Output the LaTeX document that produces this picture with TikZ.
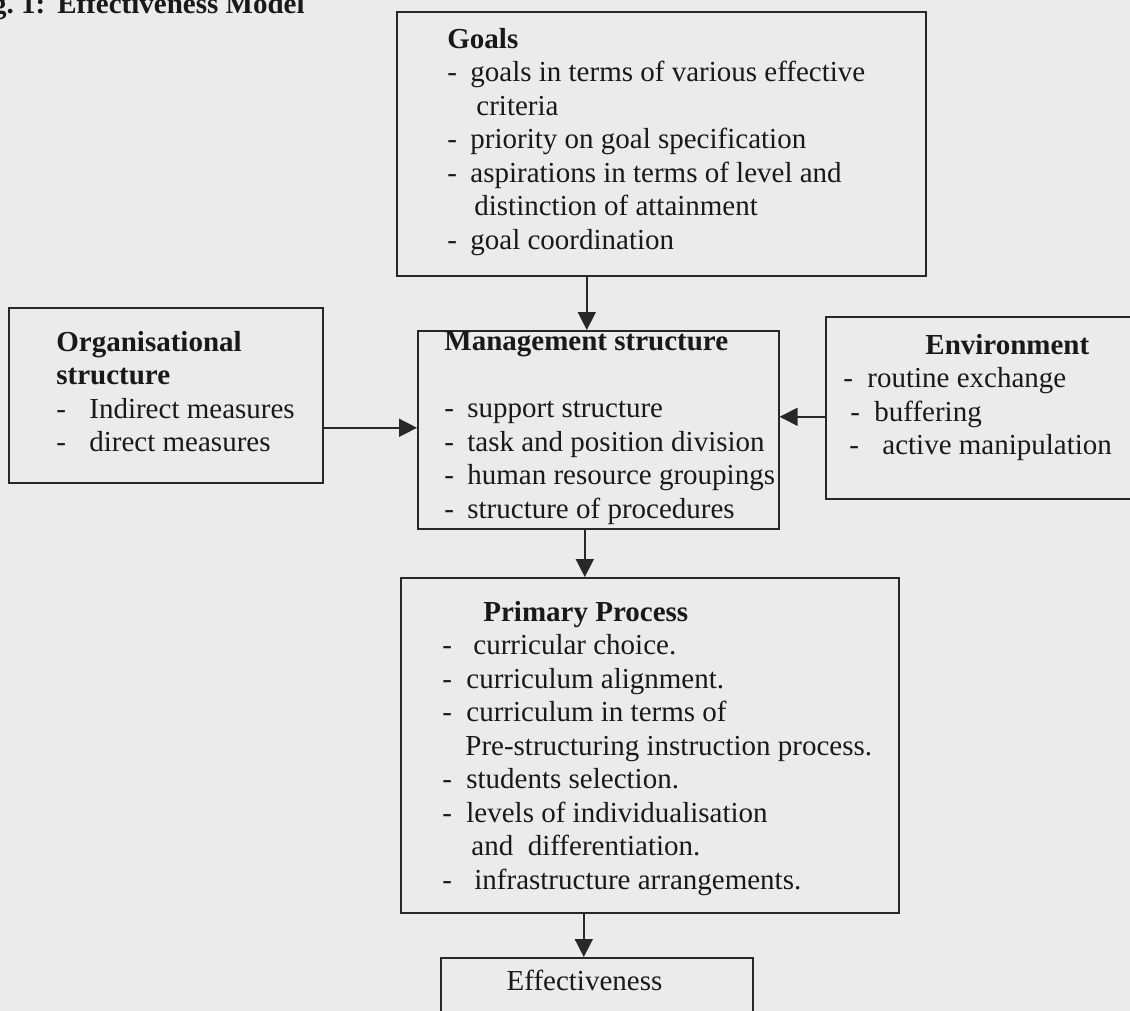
\documentclass[tikz,border=0pt]{standalone}
\usepackage{fontspec}
\setmainfont{Liberation Serif}
\usepackage{tikz}
\usetikzlibrary{arrows.meta}
\definecolor{paper}{RGB}{235,235,235}
\definecolor{inkline}{RGB}{40,40,40}
\definecolor{inktext}{RGB}{25,25,25}
\newcommand{\dashto}[1]{\makebox[#1][l]{-}}

\begin{document}
\begin{tikzpicture}[
  x=0.5pt, y=-0.5pt,
  font=\fontsize{14.5}{16.75}\selectfont,
  box/.style={draw=inkline, line width=0.8pt, inner sep=0pt, anchor=north west},
  txt/.style={text=inktext, align=left, inner sep=0pt, anchor=north west},
  arr/.style={-{Triangle[length=9pt, width=9pt]}, draw=inkline, line width=0.8pt}
]
\useasboundingbox (0,0) rectangle (1130,1011);
\clip (0,0) rectangle (1130,1011);
\fill[paper] (0,0) rectangle (1130,1011);
\node[txt, anchor=base east, font=\fontsize{14.5}{16.75}\selectfont\bfseries] (figtitle) at (305,14) {g.~1:\hspace{6pt}Effectiveness Model};
% boxes
\node[box, minimum width=264.5pt, minimum height=132pt] at (396,11)  (goals) {};
\node[box, minimum width=157pt,   minimum height=87.5pt] at (8,307)  (org)   {};
\node[box, minimum width=180.5pt, minimum height=99pt]  at (417,330) (mgmt)  {};
\node[box, minimum width=160pt,   minimum height=91pt]  at (825,316) (env)   {};
\node[box, minimum width=249pt,   minimum height=167.5pt] at (400,577) (prim) {};
\node[box, minimum width=156pt,   minimum height=34pt]  at (440,957) (eff)   {};
% texts
\node[txt] at (447,24.5) (goalstxt) {\strut\textbf{Goals}\\
  \dashto{11.5pt}goals in terms of various effective\\
  \hspace*{14.5pt}criteria\\
  \dashto{11.5pt}priority on goal specification\\
  \dashto{11.5pt}aspirations in terms of level and\\
  \hspace*{13.5pt}distinction of attainment\\
  \dashto{11.5pt}goal coordination};
\node[txt] at (56,327.5) (orgtxt) {\strut\textbf{Organisational}\\
  \textbf{structure}\\
  \dashto{16.5pt}Indirect measures\\
  \dashto{16.5pt}direct measures};
\node[txt] at (444,327) (mgmttxt) {\strut\textbf{Management structure}\\[16.75pt]
  \dashto{11.5pt}support structure\\
  \dashto{11.5pt}task and position division\\
  \dashto{11.5pt}human resource groupings\\
  \dashto{11.5pt}structure of procedures};
\node[txt] at (843,330.5) (envtxt) {\strut\hspace*{41pt}\textbf{Environment}\\
  \dashto{12pt}routine exchange\\
  \hspace*{3.5pt}\dashto{12pt}buffering\\
  \hspace*{3pt}\dashto{16.5pt}active manipulation};
\node[txt] at (442,597.5) (primtxt) {\strut\hspace*{20.5pt}\textbf{Primary Process}\\
  \dashto{15.5pt}curricular choice.\\
  \dashto{12pt}curriculum alignment.\\
  \dashto{12pt}curriculum in terms of\\
  \hspace*{11.5pt}Pre-structuring instruction process.\\
  \dashto{12pt}students selection.\\
  \dashto{12pt}levels of individualisation\\
  \hspace*{14.5pt}and\ \ differentiation.\\
  \dashto{16pt}infrastructure arrangements.};
\node[txt, anchor=base] at (584.5,990) (efftxt) {Effectiveness};
% arrows
\draw[arr] ([xshift=-5.75pt]mgmt.north |- goals.south) -- ([xshift=-5.75pt]mgmt.north);
\draw[arr] ([yshift=1pt]org.east |- mgmt.west) -- ([yshift=1pt]mgmt.west);
\draw[arr] ([yshift=-4.5pt]env.west) -- ([yshift=-4.5pt]mgmt.east |- env.west);
\draw[arr] ([xshift=-6.75pt]mgmt.south) -- ([xshift=-6.75pt]prim.north -| mgmt.south);
\draw[arr] ([xshift=-6.5pt]eff.north |- prim.south) -- ([xshift=-6.5pt]eff.north);
\end{tikzpicture}
\end{document}
